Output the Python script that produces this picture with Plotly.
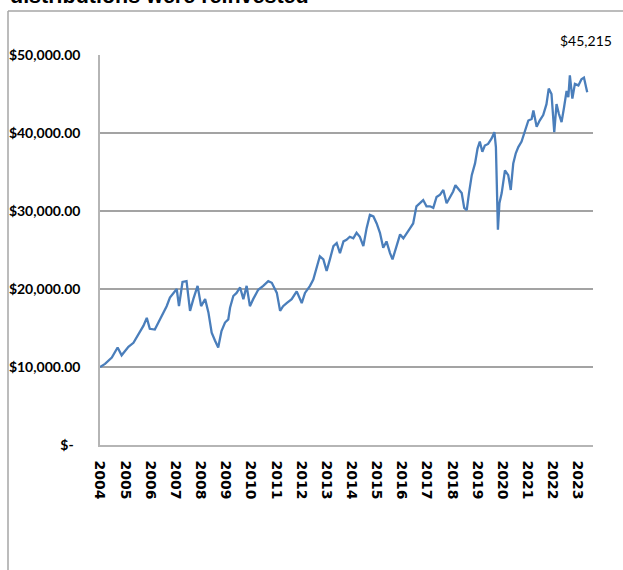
import plotly.graph_objects as go

# Time (decimal years) and growth-of-$10,000 values
years = [
    2004.50, 2004.70, 2004.97, 2005.20, 2005.36, 2005.63, 2005.83, 2006.03, 2006.23, 2006.36,
    2006.48, 2006.68, 2006.82, 2006.95, 2007.15, 2007.28, 2007.42, 2007.55, 2007.64, 2007.78,
    2007.94, 2008.08, 2008.21, 2008.38, 2008.52, 2008.68, 2008.81, 2008.94, 2009.07, 2009.20,
    2009.33, 2009.47, 2009.60, 2009.67, 2009.80, 2009.93, 2010.07, 2010.20, 2010.33, 2010.46,
    2010.59, 2010.79, 2010.99, 2011.19, 2011.33, 2011.53, 2011.66, 2011.78, 2011.92, 2012.12,
    2012.32, 2012.52, 2012.65, 2012.85, 2012.98, 2013.11, 2013.24, 2013.38, 2013.51, 2013.64,
    2013.78, 2013.91, 2014.04, 2014.18, 2014.30, 2014.43, 2014.57, 2014.70, 2014.83, 2014.97,
    2015.10, 2015.23, 2015.37, 2015.50, 2015.63, 2015.76, 2015.89, 2016.03, 2016.13, 2016.29,
    2016.43, 2016.56, 2016.69, 2016.83, 2016.95, 2017.08, 2017.22, 2017.35, 2017.48, 2017.62,
    2017.75, 2017.88, 2018.02, 2018.15, 2018.28, 2018.41, 2018.54, 2018.63, 2018.74, 2018.88,
    2018.98, 2019.08, 2019.17, 2019.28, 2019.41, 2019.51, 2019.60, 2019.70, 2019.80, 2019.93,
    2020.07, 2020.18, 2020.24, 2020.29, 2020.32, 2020.38, 2020.47, 2020.60, 2020.73, 2020.83,
    2020.93, 2021.03, 2021.13, 2021.26, 2021.39, 2021.53, 2021.66, 2021.73, 2021.86, 2021.98,
    2022.12, 2022.25, 2022.34, 2022.45, 2022.56, 2022.65, 2022.74, 2022.85, 2022.95, 2023.05,
    2023.12, 2023.18, 2023.28, 2023.38, 2023.52, 2023.64, 2023.74, 2023.81, 2023.87,
]
values = [
    10000, 10400, 11200, 12500, 11500, 12600, 13100, 14200, 15300, 16300,
    14900, 14800, 15700, 16500, 17800, 18900, 19500, 20000, 17800, 20900,
    21000, 17200, 18700, 20400, 17800, 18700, 17000, 14400, 13400, 12500,
    14600, 15700, 16100, 17600, 19100, 19500, 20200, 18700, 20400, 17800,
    18700, 19900, 20400, 21000, 20800, 19500, 17200, 17800, 18200, 18700,
    19700, 18200, 19500, 20400, 21200, 22900, 24200, 23800, 22300, 23800,
    25500, 25900, 24600, 26100, 26300, 26700, 26500, 27200, 26700, 25500,
    27800, 29500, 29300, 28400, 27200, 25300, 26100, 24600, 23800, 25500,
    27000, 26500, 27200, 27800, 28400, 30600, 31000, 31400, 30600, 30600,
    30400, 31800, 32100, 32700, 31000, 31800, 32500, 33300, 32900, 32300,
    30400, 30100, 32300, 34600, 36100, 38000, 38900, 37600, 38400, 38600,
    39300, 40100, 38200, 31400, 27600, 31000, 32300, 35200, 34600, 32700,
    36100, 37400, 38200, 38900, 40100, 41600, 41800, 42900, 40800, 41600,
    42300, 43700, 45700, 45000, 40100, 43700, 42500, 41400, 43300, 45400,
    44600, 47400, 44400, 46300, 46100, 46900, 47100, 45900, 45215,
]

tick_years = [2004.5 + k for k in range(20)]
tick_labels = [str(2004 + k) for k in range(20)]
y_ticks = [0, 10000, 20000, 30000, 40000, 50000]
y_labels = ["$-\u00a0\u00a0", "$10,000.00", "$20,000.00", "$30,000.00", "$40,000.00", "$50,000.00"]
final_label = "$45,215"
title_text = "distributions were reinvested"

fig = go.Figure()
fig.add_trace(go.Scatter(
    x=years, y=values, mode="lines",
    line=dict(color="#4A7EBB", width=2.3),
    hoverinfo="skip", showlegend=False,
))

W, H = 623, 570
L, R, T, B = 100, 30, 55, 125
pw, ph = W - L - R, H - T - B

def px_x(p):
    return (p - L) / pw

def px_y(p):
    return (H - B - p) / ph

fig.update_layout(
    width=W, height=H,
    margin=dict(l=L, r=R, t=T, b=B, pad=0, autoexpand=False),
    paper_bgcolor="white", plot_bgcolor="white",
    showlegend=False,
    xaxis=dict(
        range=[2004.5, 2024.1], tickvals=tick_years, ticktext=tick_labels,
        tickangle=90, showgrid=False, zeroline=False, automargin=False,
        showline=True, linecolor="#b5b5b5", linewidth=1.5,
        ticks="", ticklabelstandoff=11,
        tickfont=dict(family="DejaVu Sans", size=14, color="black", weight="bold"),
    ),
    yaxis=dict(
        range=[0, 50000], tickvals=y_ticks, ticktext=y_labels,
        showgrid=True, gridcolor="#a3a3a3", gridwidth=1.5, automargin=False,
        zeroline=False, showline=True, linecolor="#b5b5b5", linewidth=1.5,
        ticks="", ticklabelstandoff=15,
        tickfont=dict(family="Lato", size=14, color="black", weight="bold"),
    ),
    annotations=[
        dict(x=px_x(586), y=px_y(41), xref="paper", yref="paper",
             text=final_label, showarrow=False,
             xanchor="center", yanchor="middle",
             font=dict(family="Lato", size=14, color="black")),
        dict(x=px_x(8), y=px_y(10), xref="paper", yref="paper",
             text=title_text, showarrow=False,
             xanchor="left", yanchor="bottom",
             font=dict(family="Liberation Sans", size=21.5, color="black", weight="bold")),
    ],
    shapes=[
        dict(type="line", xref="paper", yref="paper",
             x0=px_x(8), x1=px_x(8), y0=px_y(11), y1=px_y(575),
             line=dict(color="#a6a6a6", width=1.5)),
        dict(type="line", xref="paper", yref="paper",
             x0=px_x(8), x1=px_x(630), y0=px_y(11), y1=px_y(11),
             line=dict(color="#a6a6a6", width=1.5)),
    ],
)

fig.write_html("out.html", config={"displayModeBar": False},
               post_script="document.body.style.margin='0';")
